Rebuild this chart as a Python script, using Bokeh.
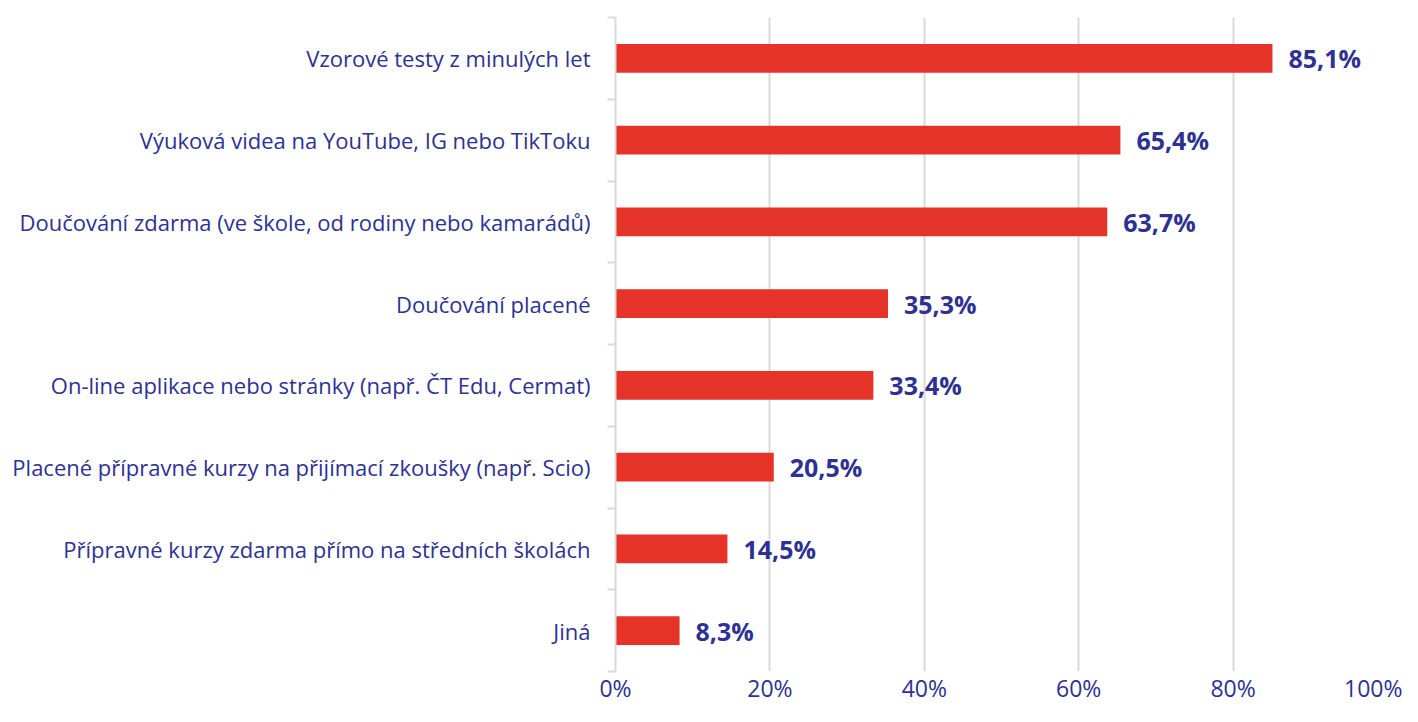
from bokeh.plotting import figure
from bokeh.models import ColumnDataSource, FixedTicker, NumeralTickFormatter, Range1d, LabelSet
from bokeh.core.properties import value
from bokeh.embed import file_html
from bokeh.resources import INLINE

categories = [
    "Vzorové testy z minulých let",
    "Výuková videa na YouTube, IG nebo TikToku",
    "Doučování zdarma (ve škole, od rodiny nebo kamarádů)",
    "Doučování placené",
    "On-line aplikace nebo stránky (např. ČT Edu, Cermat)",
    "Placené přípravné kurzy na přijímací zkoušky (např. Scio)",
    "Přípravné kurzy zdarma přímo na středních školách",
    "Jiná",
]
values = [85.1, 65.4, 63.7, 35.3, 33.4, 20.5, 14.5, 8.3]
x_ticks = [0, 20, 40, 60, 80, 100]

NAVY = "#2E3192"
RED = "#E5332A"
GRID = "#D9D9D9"
FONT = "Open Sans"

n = len(categories)
ypos = [n - 1 - i + 0.5 for i in range(n)]  # centers, top first
labels = [f"{v:.1f}".replace(".", ",") + "%" for v in values]

src = ColumnDataSource(dict(y=ypos, v=values, lab=labels, cat=categories))

p = figure(width=1402, height=706, output_backend="svg", toolbar_location=None,
           x_range=Range1d(0, 100), y_range=Range1d(0, n),
           min_border_left=615, min_border_right=15, min_border_top=17, min_border_bottom=26)
p.outline_line_color = None
p.background_fill_color = "white"
p.border_fill_color = "white"

p.hbar(y="y", right="v", left=0, height=0.35, source=src, color=RED, line_color=None)

p.add_layout(LabelSet(x="v", y="y", text="lab", source=src, x_offset=16, y_offset=0,
                      text_baseline="middle", text_align="left", text_color=NAVY,
                      text_font=value(FONT), text_font_size="25px", text_font_style="bold"))

# x axis
p.xaxis.ticker = FixedTicker(ticks=x_ticks)
p.xaxis.formatter = NumeralTickFormatter(format="0")
p.xaxis.major_label_overrides = {t: f"{t}%" for t in x_ticks}
p.xaxis.axis_line_color = None
p.xaxis.major_tick_line_color = None
p.xaxis.minor_tick_line_color = None
p.xaxis.major_tick_out = 0
p.xaxis.major_tick_in = 0
p.xaxis.minor_tick_out = 0
p.xaxis.minor_tick_in = 0
p.xaxis.major_label_text_color = NAVY
p.xaxis.major_label_text_font = FONT
p.xaxis.major_label_text_font_size = "23px"
p.xaxis.major_label_text_line_height = 1.0
p.xaxis.major_label_standoff = 0
p.xaxis.axis_label_standoff = 0
p.xgrid.grid_line_color = GRID
p.xgrid.grid_line_width = 2
p.ygrid.grid_line_color = None

# y axis: labels at centers, ticks at category boundaries
p.yaxis.ticker = FixedTicker(ticks=ypos, minor_ticks=list(range(n + 1)))
p.yaxis.major_label_overrides = {y: c for y, c in zip(ypos, categories)}
p.yaxis.axis_line_color = GRID
p.yaxis.axis_line_width = 2
p.yaxis.major_tick_line_color = None
p.yaxis.major_tick_out = 0
p.yaxis.major_tick_in = 0
p.yaxis.minor_tick_line_color = GRID
p.yaxis.minor_tick_line_width = 2
p.yaxis.minor_tick_out = 8
p.yaxis.minor_tick_in = 0
p.yaxis.major_label_text_color = NAVY
p.yaxis.major_label_text_font = FONT
p.yaxis.major_label_text_font_size = "22px"
p.yaxis.major_label_standoff = 17

open("out.html", "w").write(file_html(p, INLINE))
